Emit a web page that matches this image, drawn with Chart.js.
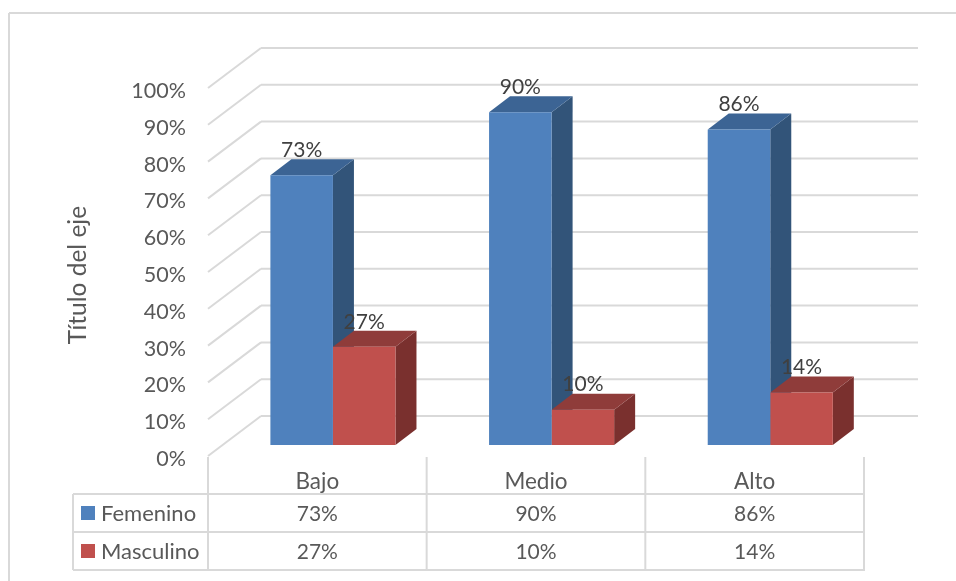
<!DOCTYPE html>
<html>
<head>
<meta charset="utf-8">
<title>Título del eje</title>
<script src="https://cdn.jsdelivr.net/npm/chart.js@4/dist/chart.umd.min.js"></script>
<style>
    html, body { margin: 0; padding: 0; background: #fff; overflow: hidden; }
    canvas { display: block; }
</style>
</head>
<body>
<canvas id="myChart" width="956" height="581"></canvas>
<script>
// chart data, bar heights (labels show them rounded)
const categories = ["Bajo", "Medio", "Alto"]
const femenino = [73.3, 90.4, 85.7]
const masculino = [26.7, 9.6, 14.3]
const seriesNames = ["Femenino", "Masculino"]
const axisTitle = "Título del eje"

const frontColors = ["#4F81BD", "#C0504D"]
const topColors = ["#3C6494", "#8F3C3A"]
const sideColors = ["#325479", "#7A302E"]

const gridColor = "#D9D9D9"
const textColor = "#595959"
const fontName = "Lato, 'Noto Sans', sans-serif"

// 3d look
const wallX = 53, wallY = -40     // back wall offset
const barX = 15.6, barY = -11     // bars stand a bit inside the floor
const depthX = 21, depthY = -16   // bar depth

function line(ctx, x1, y1, x2, y2) {
    ctx.beginPath()
    ctx.moveTo(x1, y1)
    ctx.lineTo(x2, y2)
    ctx.stroke()
}

function face(ctx, color, points) {
    ctx.fillStyle = color
    ctx.beginPath()
    points.forEach((p, i) => i ? ctx.lineTo(p[0], p[1]) : ctx.moveTo(p[0], p[1]))
    ctx.closePath()
    ctx.fill()
}

const bars3d = {
    id: "bars3d",
    beforeDatasetsDraw(chart) {
        const ctx = chart.ctx
        const { left, right } = chart.chartArea
        const y = chart.scales.y

        // outer border of the chart
        ctx.save()
        ctx.strokeStyle = gridColor
        ctx.lineWidth = 2
        line(ctx, 9, 13, 956, 13)
        line(ctx, 9, 13, 9, 581)

        // wall gridlines
        y.ticks.forEach(t => {
            const py = y.getPixelForValue(t.value)
            line(ctx, left, py, left + wallX, py + wallY)
            line(ctx, left + wallX, py + wallY, right + wallX + 1, py + wallY)
        })

        // top and side of the bars, the front comes from the library
        chart.data.datasets.forEach((ds, d) => {
            chart.getDatasetMeta(d).data.forEach(bar => {
                const x1 = bar.x - bar.width / 2 + barX
                const x2 = bar.x + bar.width / 2 + barX
                const top = bar.y + barY
                const bottom = bar.base + barY
                face(ctx, sideColors[d], [[x2, top], [x2 + depthX, top + depthY], [x2 + depthX, bottom + depthY], [x2, bottom]])
                face(ctx, topColors[d], [[x1, top], [x1 + depthX, top + depthY], [x2 + depthX, top + depthY], [x2, top]])
            })
        })
        ctx.restore()

        // move the library's bars to the same place
        ctx.save()
        ctx.translate(barX, barY)
    },
    afterDatasetsDraw(chart) {
        const ctx = chart.ctx
        ctx.restore()

        // value labels
        ctx.save()
        ctx.font = "21px " + fontName
        ctx.fillStyle = "#404040"
        ctx.textAlign = "center"
        ctx.textBaseline = "middle"
        chart.data.datasets.forEach((ds, d) => {
            chart.getDatasetMeta(d).data.forEach((bar, i) => {
                ctx.fillText(Math.round(ds.data[i]) + "%", bar.x + barX, bar.y + barY - 25)
            })
        })
        ctx.restore()
    },
    afterDraw(chart) {
        const ctx = chart.ctx
        const { left, right, bottom } = chart.chartArea
        const x = chart.scales.x
        const rowH = 38
        const headBottom = bottom + 38
        const tableLeft = 73

        ctx.save()
        ctx.strokeStyle = gridColor
        ctx.lineWidth = 2

        // data table lines
        seriesNames.forEach((n, r) => {
            line(ctx, tableLeft, headBottom + rowH * r, right, headBottom + rowH * r)
        })
        line(ctx, tableLeft, headBottom + rowH * 2, right + 1, headBottom + rowH * 2)
        line(ctx, tableLeft, headBottom, tableLeft, headBottom + rowH * 2)
        const step = (right - left) / categories.length
        for (let c = 0; c <= categories.length; c++) {
            line(ctx, left + step * c, bottom + 1, left + step * c, headBottom + rowH * 2)
        }

        // data table text
        ctx.textBaseline = "middle"
        const rows = [femenino, masculino]
        rows.forEach((values, r) => {
            const cy = headBottom + rowH * r + rowH / 2 + 1
            ctx.fillStyle = frontColors[r]
            ctx.fillRect(81, cy - 8, 14, 14)
            ctx.fillStyle = textColor
            ctx.textAlign = "left"
            ctx.font = "22px " + fontName
            ctx.fillText(seriesNames[r], 101, cy)
            ctx.textAlign = "center"
            ctx.font = "21px " + fontName
            values.forEach((v, i) => ctx.fillText(Math.round(v) + "%", x.getPixelForValue(i), cy))
        })

        // axis title
        ctx.translate(78, 275)
        ctx.rotate(-Math.PI / 2)
        ctx.font = "24.5px " + fontName
        ctx.fillText(axisTitle, 0, 0)
        ctx.restore()
    }
}

new Chart("myChart", {
    type: "bar",
    data: {
        labels: categories,
        datasets: [
            { label: seriesNames[0], data: femenino, backgroundColor: frontColors[0], clip: false },
            { label: seriesNames[1], data: masculino, backgroundColor: frontColors[1], clip: false }
        ]
    },
    options: {
        responsive: false,
        animation: false,
        layout: { padding: { top: 88, right: 92, left: 0, bottom: 0 } },
        categoryPercentage: 0.572,
        barPercentage: 1,
        plugins: {
            legend: { display: false },
            tooltip: { enabled: false }
        },
        scales: {
            x: {
                afterFit: s => { s.height = 125 },
                grid: { display: false, drawTicks: false },
                border: { display: false },
                ticks: { color: textColor, font: { family: fontName, size: 22.5 }, padding: 12, maxRotation: 0 }
            },
            y: {
                min: 0,
                max: 100,
                afterFit: s => { s.width = 208 },
                grid: { display: false, drawTicks: false },
                border: { display: false },
                ticks: {
                    stepSize: 10,
                    color: textColor,
                    font: { family: fontName, size: 21.5 },
                    padding: 22,
                    labelOffset: 3,
                    callback: v => v + "%"
                }
            }
        }
    },
    plugins: [bars3d]
})
</script>
</body>
</html>
